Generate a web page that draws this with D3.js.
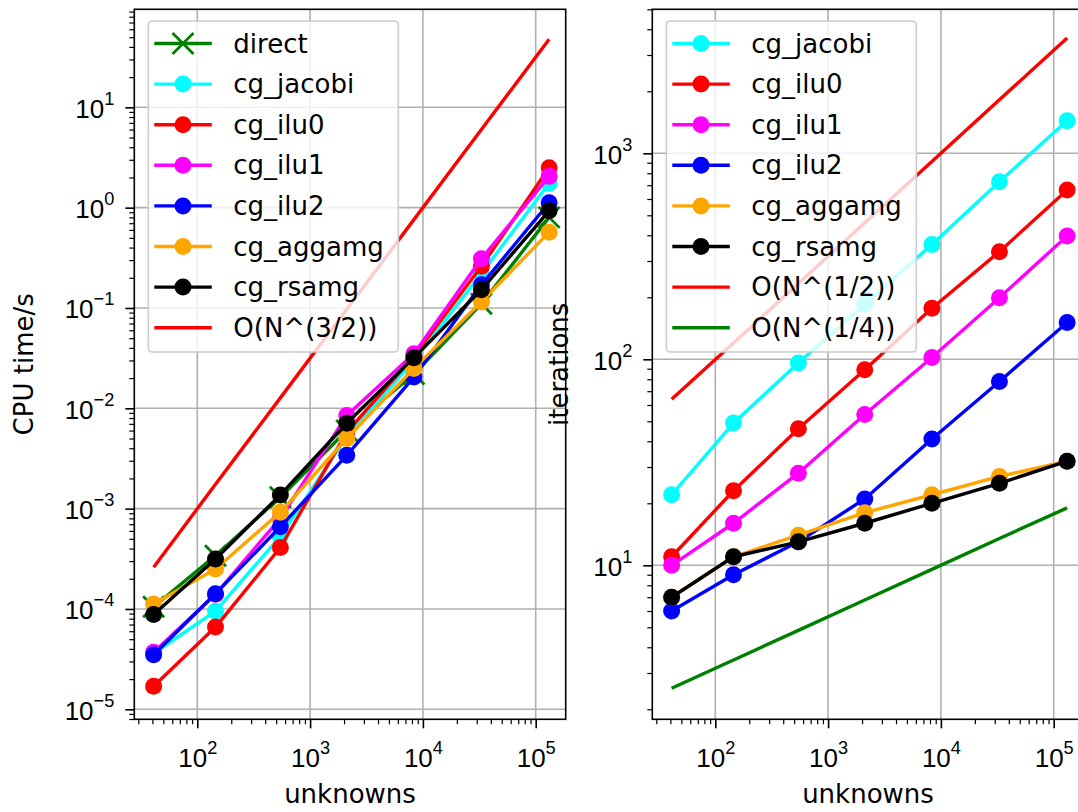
<!DOCTYPE html>
<html>
<head>
<meta charset="utf-8">
<script src="https://cdn.jsdelivr.net/npm/d3@7"></script>
<style>
	body { margin: 0; background: #fff; }
	svg { display: block; font-family: "DejaVu Sans", sans-serif; }
</style>
</head>
<body>
<svg id="chart" width="1078" height="812"></svg>
<script>
var unknowns = [41, 145, 545, 2113, 8321, 33025, 131585];

// CPU time/s (left panel)
var cpuDirect = [1.05e-4, 3.4e-4, 1.3e-3, 6.0e-3, 2.2e-2, 0.11, 0.80];
var cpuJacobi = [3.6e-5, 9.5e-5, 5.3e-4, 5.2e-3, 3.0e-2, 0.22, 1.75];
var cpuIlu0 = [1.7e-5, 6.6e-5, 4.1e-4, 5.8e-3, 3.3e-2, 0.26, 2.5];
var cpuIlu1 = [3.7e-5, 1.4e-4, 8.0e-4, 8.5e-3, 3.5e-2, 0.31, 2.05];
var cpuIlu2 = [3.5e-5, 1.42e-4, 6.6e-4, 3.4e-3, 2.05e-2, 0.17, 1.12];
var cpuAggamg = [1.12e-4, 2.5e-4, 9.2e-4, 5.0e-3, 2.5e-2, 0.115, 0.57];
var cpuRsamg = [8.8e-5, 3.15e-4, 1.37e-3, 7.1e-3, 3.2e-2, 0.152, 0.93];
var cpuRef = [2.6e-4, 1.75e-3, 1.27e-2, 9.7e-2, 0.76, 6.0, 47.7];

// iterations (right panel)
var itJacobi = [22, 49, 96, 185, 361, 728, 1440];
var itIlu0 = [11, 23, 46, 89, 177, 333, 664];
var itIlu1 = [10, 16, 28, 54, 102, 199, 397];
var itIlu2 = [6, 9, 13, 21, 41, 78, 151];
var itAggamg = [7, 11, 14, 18, 22, 27, 32];
var itRsamg = [7, 11, 13, 16, 20, 25, 32];
var itRefHalf = [64, 120, 233, 460, 912, 1817, 3627];
var itRefQuarter = [2.53, 3.47, 4.83, 6.78, 9.55, 13.5, 19.0];

var unknownsTicks = [1e2, 1e3, 1e4, 1e5];
var cpuTicks = [1e-5, 1e-4, 1e-3, 1e-2, 1e-1, 1, 10];
var itTicks = [10, 100, 1000];

var FONT = 26,
	LINE_W = 3.4,
	MARKER_R = 8.5,
	TOP = 9.3,
	BOTTOM = 719.3;

var svg = d3.select("#chart");

function series(name, values, color, marker) {
	return { name: name, values: values, color: color, marker: marker };
}

function superLabel(sel, v) {
	// "10" with the exponent raised, like mathtext
	var exp = Math.round(Math.log10(v));
	sel.text("10");
	sel.append("tspan")
		.attr("font-size", FONT * 0.7)
		.attr("dy", -FONT * 0.5)
		.text(String(exp).replace("-", "\u2212"));
}

function drawMarker(g, marker, color, cx, cy) {
	if (marker === "x") {
		var h = 10.5;
		g.append("path")
			.attr("d", "M" + (cx - h) + "," + (cy - h) + "L" + (cx + h) + "," + (cy + h) +
				"M" + (cx - h) + "," + (cy + h) + "L" + (cx + h) + "," + (cy - h))
			.attr("stroke", color)
			.attr("stroke-width", 2.8)
			.attr("fill", "none");
	} else if (marker === "o") {
		g.append("circle")
			.attr("cx", cx)
			.attr("cy", cy)
			.attr("r", MARKER_R)
			.attr("fill", color);
	}
}

function drawPanel(opts) {
	var x = d3.scaleLog().domain(opts.xDomain).range([opts.left, opts.right]),
		y = d3.scaleLog().domain(opts.yDomain).range([BOTTOM, TOP]);

	var g = svg.append("g");

	// grid on major ticks
	g.append("g").selectAll("line.gx").data(opts.xTicks).join("line")
		.attr("x1", function(d) { return x(d); })
		.attr("x2", function(d) { return x(d); })
		.attr("y1", TOP).attr("y2", BOTTOM)
		.attr("stroke", "#b0b0b0").attr("stroke-width", 1.6);
	g.append("g").selectAll("line.gy").data(opts.yTicks).join("line")
		.attr("y1", function(d) { return y(d); })
		.attr("y2", function(d) { return y(d); })
		.attr("x1", opts.left).attr("x2", opts.right)
		.attr("stroke", "#b0b0b0").attr("stroke-width", 1.6);

	// data lines and markers
	var line = d3.line()
		.x(function(d, i) { return x(unknowns[i]); })
		.y(function(d) { return y(d); });

	opts.series.forEach(function(s) {
		var sg = g.append("g");
		sg.append("path")
			.attr("d", line(s.values))
			.attr("fill", "none")
			.attr("stroke", s.color)
			.attr("stroke-width", LINE_W)
			.attr("stroke-linejoin", "round");
		s.values.forEach(function(v, i) {
			drawMarker(sg, s.marker, s.color, x(unknowns[i]), y(v));
		});
	});

	// ticks
	var isMajor = function(v) {
		return Math.abs(Math.log10(v) - Math.round(Math.log10(v))) < 1e-9;
	};
	var xMinor = x.ticks().filter(function(v) { return !isMajor(v); }),
		yMinor = y.ticks().filter(function(v) { return !isMajor(v); });

	var xAxisG = g.append("g").attr("transform", "translate(0," + BOTTOM + ")");
	xAxisG.append("g").call(d3.axisBottom(x).tickValues(xMinor).tickSize(5).tickFormat(""))
		.selectAll("line").attr("stroke-width", 1.2);
	var xMaj = xAxisG.append("g").call(d3.axisBottom(x).tickValues(opts.xTicks).tickSize(9).tickFormat(""));
	xMaj.selectAll("line").attr("stroke-width", 1.6);
	xMaj.selectAll(".tick").append("text")
		.attr("fill", "#000")
		.attr("y", 47.5)
		.attr("dy", 0)
		.attr("font-size", FONT)
		.attr("text-anchor", "middle")
		.each(function(d) { superLabel(d3.select(this), d); });

	var yAxisG = g.append("g").attr("transform", "translate(" + opts.left + ",0)");
	yAxisG.append("g").call(d3.axisLeft(y).tickValues(yMinor).tickSize(5).tickFormat(""))
		.selectAll("line").attr("stroke-width", 1.2);
	var yMaj = yAxisG.append("g").call(d3.axisLeft(y).tickValues(opts.yTicks).tickSize(9).tickFormat(""));
	yMaj.selectAll("line").attr("stroke-width", 1.6);
	yMaj.selectAll(".tick").append("text")
		.attr("fill", "#000")
		.attr("x", -20)
		.attr("y", 10)
		.attr("dy", 0)
		.attr("font-size", FONT)
		.attr("text-anchor", "end")
		.each(function(d) { superLabel(d3.select(this), d); });

	g.selectAll(".domain").remove();

	// frame
	g.append("rect")
		.attr("x", opts.left).attr("y", TOP)
		.attr("width", opts.right - opts.left).attr("height", BOTTOM - TOP)
		.attr("fill", "none").attr("stroke", "#000").attr("stroke-width", 1.6);

	// axis labels
	g.append("text")
		.attr("x", (opts.left + opts.right) / 2)
		.attr("y", 803)
		.attr("font-size", FONT)
		.attr("text-anchor", "middle")
		.text("unknowns");
	g.append("text")
		.attr("transform", "translate(" + opts.yLabelX + "," + (TOP + BOTTOM) / 2 + ") rotate(-90)")
		.attr("font-size", FONT)
		.attr("text-anchor", "middle")
		.text(opts.yLabel);

	// legend
	var lg = g.append("g"),
		lx = opts.left + 14,
		rowY0 = 43.5,
		rowStep = 40.6;
	lg.append("rect")
		.attr("x", lx).attr("y", 21)
		.attr("width", 250).attr("height", 331)
		.attr("rx", 4)
		.attr("fill", "#fff").attr("fill-opacity", 0.8)
		.attr("stroke", "#cccccc").attr("stroke-width", 1.6);
	opts.series.forEach(function(s, i) {
		var cy = rowY0 + i * rowStep;
		lg.append("line")
			.attr("x1", lx + 6).attr("x2", lx + 63.5)
			.attr("y1", cy).attr("y2", cy)
			.attr("stroke", s.color).attr("stroke-width", LINE_W);
		drawMarker(lg, s.marker, s.color, lx + 34.7, cy);
		lg.append("text")
			.attr("x", lx + 85)
			.attr("y", cy + 9)
			.attr("font-size", FONT)
			.text(s.name);
	});
}

var xDomain = [Math.pow(10, 1.4415), Math.pow(10, 5.266)];

drawPanel({
	left: 134.3,
	right: 565.7,
	xDomain: xDomain,
	yDomain: [Math.pow(10, -5.0997), Math.pow(10, 1.977)],
	xTicks: unknownsTicks,
	yTicks: cpuTicks,
	yLabel: "CPU time/s",
	yLabelX: 33,
	series: [
		series("direct", cpuDirect, "green", "x"),
		series("cg_jacobi", cpuJacobi, "cyan", "o"),
		series("cg_ilu0", cpuIlu0, "red", "o"),
		series("cg_ilu1", cpuIlu1, "magenta", "o"),
		series("cg_ilu2", cpuIlu2, "blue", "o"),
		series("cg_aggamg", cpuAggamg, "orange", "o"),
		series("cg_rsamg", cpuRsamg, "black", "o"),
		series("O(N^(3/2))", cpuRef, "red", "none")
	]
});

drawPanel({
	left: 652.3,
	right: 1083.7,
	xDomain: xDomain,
	yDomain: [Math.pow(10, 0.2524), Math.pow(10, 3.699)],
	xTicks: unknownsTicks,
	yTicks: itTicks,
	yLabel: "iterations",
	yLabelX: 568,
	series: [
		series("cg_jacobi", itJacobi, "cyan", "o"),
		series("cg_ilu0", itIlu0, "red", "o"),
		series("cg_ilu1", itIlu1, "magenta", "o"),
		series("cg_ilu2", itIlu2, "blue", "o"),
		series("cg_aggamg", itAggamg, "orange", "o"),
		series("cg_rsamg", itRsamg, "black", "o"),
		series("O(N^(1/2))", itRefHalf, "red", "none"),
		series("O(N^(1/4))", itRefQuarter, "green", "none")
	]
});
</script>
</body>
</html>
